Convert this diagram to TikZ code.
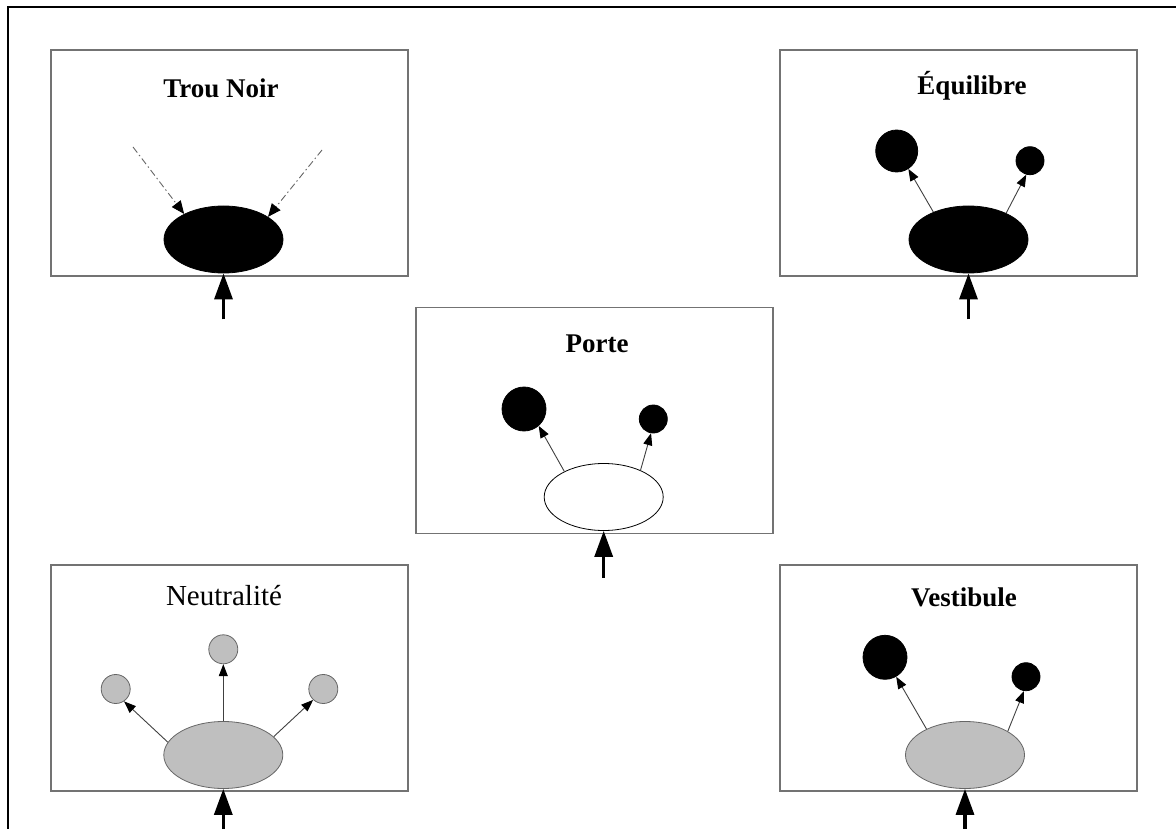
\documentclass[tikz,border=0pt]{standalone}
\usepackage{fontspec}
\setmainfont{Liberation Serif}
\usetikzlibrary{arrows.meta, positioning, shapes.geometric}

\tikzset{
  panel/.style={draw=black!55, line width=1.3pt, rectangle, minimum width=357pt, minimum height=226pt, inner sep=0pt},
  title/.style={anchor=base, inner sep=0pt, font=\fontsize{27}{32}\selectfont\bfseries},
  core/.style={draw, ellipse, line width=0.8pt, minimum width=119pt, minimum height=67pt, inner sep=0pt},
  ball/.style={draw, circle, line width=0.8pt, inner sep=0pt, minimum size=#1},
  inflow/.style={line width=3.3pt, -{Triangle[length=26pt, width=18pt]}},
  outflow/.style={draw=black!75, line width=0.9pt, -{Triangle[length=12pt, width=9pt, color=black, fill=black]}},
  dashflow/.style={draw=black!60, line width=0.9pt, dash pattern=on 7pt off 3pt on 1.5pt off 3pt, -{Triangle[length=13pt, width=11pt, color=black, fill=black]}}
}

\begin{document}
\begin{tikzpicture}[x=1pt, y=-1pt]
        \clip (0,0) rectangle (1176,829);
        \draw[line width=1.3pt] (8,840) -- (8,7) -- (1180,7);

        \node[panel] (tnbox) at (229.5,163) {};
        \node[title] (tntitle) at (221,98) {Trou Noir};
        \node[core, fill=black] (tn) at (223.5,239.5) {};
        \coordinate (tnl) at (133,147);
        \coordinate (tnr) at (322,150);
        \coordinate[below=46pt of tn] (tnin);
        \draw[dashflow] (tnl) -- (tn.147);
        \draw[dashflow] (tnr) -- (tn.27);
        \draw[inflow] (tnin) -- (tn);

        \node[panel] (eqbox) at (958.5,163) {};
        \node[title] (eqtitle) at (972,94.5) {Équilibre};
        \node[core, fill=black] (eq) at (968.5,239.5) {};
        \node[ball=42pt, fill=black] (eqa) at (896.7,151) {};
        \node[ball=28pt, fill=black] (eqb) at (1030,160.7) {};
        \coordinate[below=46pt of eq] (eqin);
        \draw[outflow] (eq.142) -- (eqa.-57);
        \draw[outflow] (eq.35) -- (eqb.-105);
        \draw[inflow] (eqin) -- (eq);

        \node[panel] (pobox) at (594.5,420.5) {};
        \node[title] (potitle) at (597,352) {Porte};
        \node[core, fill=white] (po) at (603.7,497) {};
        \node[ball=44pt, fill=black] (poa) at (524,409) {};
        \node[ball=28pt, fill=black] (pob) at (653.3,419) {};
        \coordinate[below=47pt of po] (poin);
        \draw[outflow] (po.147) -- (poa.-49);
        \draw[outflow] (po.36) -- (pob.-99);
        \draw[inflow] (poin) -- (po);

        \node[panel] (nebox) at (229.5,678) {};
        \node[title, font=\fontsize{29}{34}\selectfont] (netitle) at (224,605.5) {Neutralité};
        \node[core, draw=black!60, fill=black!25] (ne) at (223.3,755) {};
        \node[ball=29pt, draw=black!60, fill=black!25] (nea) at (115.7,689) {};
        \node[ball=29pt, draw=black!60, fill=black!25] (neb) at (223.3,649.3) {};
        \node[ball=29pt, draw=black!60, fill=black!25] (nec) at (323.3,689) {};
        \coordinate[below=50pt of ne] (nein);
        \draw[outflow] (ne.167) -- (nea.-56);
        \draw[outflow] (ne) -- (neb);
        \draw[outflow] (ne.20) -- (nec.-133);
        \draw[inflow] (nein) -- (ne);

        \node[panel] (vebox) at (958.5,678) {};
        \node[title] (vetitle) at (964,606.5) {Vestibule};
        \node[core, draw=black!60, fill=black!25] (ve) at (965,755) {};
        \node[ball=44pt, fill=black] (vea) at (885,657.3) {};
        \node[ball=28pt, fill=black] (veb) at (1026,676.7) {};
        \coordinate[below=50pt of ve] (vein);
        \draw[outflow] (ve.146) -- (vea.-60);
        \draw[outflow] (ve.29) -- (veb.-98);
        \draw[inflow] (vein) -- (ve);
      \end{tikzpicture}
\end{document}
